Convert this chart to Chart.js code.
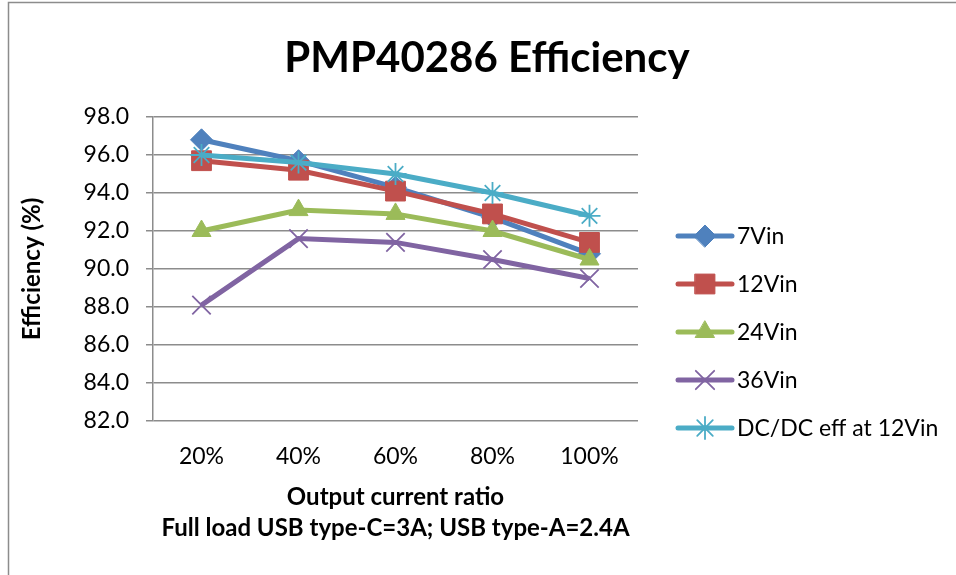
<!DOCTYPE html>
<html>
<head>
<meta charset="utf-8">
<script src="https://cdn.jsdelivr.net/npm/chart.js@4/dist/chart.umd.min.js"></script>
<style>
    html, body { margin: 0; padding: 0; background: #fff; }
    #wrap { width: 956px; height: 575px; position: relative; }
</style>
</head>
<body>
<div id="wrap"><canvas id="effChart" width="956" height="575"></canvas></div>
<script>
const chartTitle = 'PMP40286 Efficiency';
const categories = ['20%', '40%', '60%', '80%', '100%'];
const vin7 = [96.8, 95.7, 94.3, 92.7, 90.8];
const vin12 = [95.7, 95.2, 94.1, 92.9, 91.4];
const vin24 = [92.0, 93.1, 92.9, 92.0, 90.5];
const vin36 = [88.1, 91.6, 91.4, 90.5, 89.5];
const dcdc12 = [96.0, 95.6, 95.0, 94.0, 92.8];
const seriesNames = ['7Vin', '12Vin', '24Vin', '36Vin', 'DC/DC eff at 12Vin'];
const yTicks = [82, 84, 86, 88, 90, 92, 94, 96, 98];

const FONT = 'Lato, "Open Sans", sans-serif';

function make_series(label, data, color, style, radius, pbw, order) {
    return {
        label: label,
        data: data,
        order: order,   // later series drawn on top, like Excel
        borderColor: color,
        backgroundColor: color,
        borderWidth: 5,
        pointStyle: style,
        pointRadius: radius,
        pointHoverRadius: radius,
        pointBorderColor: color,
        pointBackgroundColor: color,
        pointBorderWidth: pbw,
        tension: 0
    };
}

// frame round the chart + the big title
const framePlugin = {
    id: 'frame',
    beforeDraw(chart) {
        const ctx = chart.ctx;
        ctx.save();
        ctx.strokeStyle = '#8c8c8c';
        ctx.lineWidth = 1.5;
        ctx.beginPath();
        ctx.moveTo(8.5, 575);
        ctx.lineTo(8.5, 2.5);
        ctx.lineTo(956, 2.5);
        ctx.stroke();
        ctx.fillStyle = '#000';
        ctx.font = 'bold 42px ' + FONT;
        ctx.textAlign = 'center';
        ctx.textBaseline = 'middle';
        ctx.fillText(chartTitle, 487, 58);
        ctx.restore();
    }
};

// legend with line + marker samples on the right
const sideLegend = {
    id: 'sideLegend',
    afterDraw(chart) {
        const ctx = chart.ctx;
        const x0 = 678, x1 = 732, top = 236, gap = 48;
        chart.data.datasets.forEach((ds, i) => {
            const y = top + i * gap;
            ctx.save();
            ctx.strokeStyle = ds.borderColor;
            ctx.lineWidth = 5;
            ctx.lineCap = 'round';
            ctx.beginPath();
            ctx.moveTo(x0, y);
            ctx.lineTo(x1, y);
            ctx.stroke();
            ctx.fillStyle = ds.pointBackgroundColor;
            ctx.strokeStyle = ds.pointBorderColor;
            ctx.lineWidth = ds.pointBorderWidth;
            Chart.helpers.drawPoint(ctx, {pointStyle: ds.pointStyle, radius: ds.pointRadius, rotation: 0, borderWidth: ds.pointBorderWidth}, (x0 + x1) / 2, y);
            ctx.fillStyle = '#000';
            ctx.font = '23px ' + FONT;
            ctx.textBaseline = 'middle';
            ctx.textAlign = 'left';
            ctx.fillText(ds.label, 737, y + 1);
            ctx.restore();
        });
    }
};

const ctx = document.getElementById('effChart').getContext('2d');
new Chart(ctx, {
    type: 'line',
    data: {
        labels: categories,
        datasets: [
            make_series(seriesNames[0], vin7, '#4F81BD', 'rectRot', 11, 1, 4),
            make_series(seriesNames[1], vin12, '#C0504D', 'rect', 14, 1, 3),
            make_series(seriesNames[2], vin24, '#9BBB59', 'triangle', 11, 1, 2),
            make_series(seriesNames[3], vin36, '#8064A2', 'crossRot', 13, 1.8, 1),
            make_series(seriesNames[4], dcdc12, '#4BACC6', 'star', 11, 1.8, 0)
        ]
    },
    options: {
        responsive: false,
        animation: false,
        layout: {
            padding: { left: 18, right: 318, top: 117, bottom: 31 }
        },
        plugins: {
            legend: { display: false },
            tooltip: { enabled: false },
            title: { display: false }
        },
        scales: {
            x: {
                offset: true,
                afterFit: (s) => { s.height = 123; },
                grid: { display: false, drawTicks: false },
                border: { display: false },
                ticks: {
                    color: '#000',
                    font: { family: FONT, size: 23 },
                    padding: 22
                },
                title: {
                    display: true,
                    text: ['Output current ratio', 'Full load USB type-C=3A; USB type-A=2.4A'],
                    color: '#000',
                    font: { family: FONT, size: 24, weight: 'bold', lineHeight: 1.3 },
                    padding: { top: 0, bottom: 0 }
                }
            },
            y: {
                min: yTicks[0],
                max: yTicks[yTicks.length - 1],
                afterBuildTicks: (scale) => {
                    scale.ticks = yTicks.map(v => ({ value: v }));
                },
                afterFit: (s) => { s.width = 135; },
                grid: {
                    color: '#8c8c8c',
                    lineWidth: 1.5,
                    tickLength: 7
                },
                border: { color: '#8c8c8c', width: 1.5 },
                ticks: {
                    color: '#000',
                    font: { family: FONT, size: 23 },
                    padding: 17,
                    callback: (v) => Number(v).toFixed(1)
                },
                title: {
                    display: true,
                    text: 'Efficiency (%)',
                    color: '#000',
                    font: { family: FONT, size: 24, weight: 'bold' },
                    padding: { top: 0, bottom: 0 }
                }
            }
        }
    },
    plugins: [framePlugin, sideLegend]
});
</script>
</body>
</html>
